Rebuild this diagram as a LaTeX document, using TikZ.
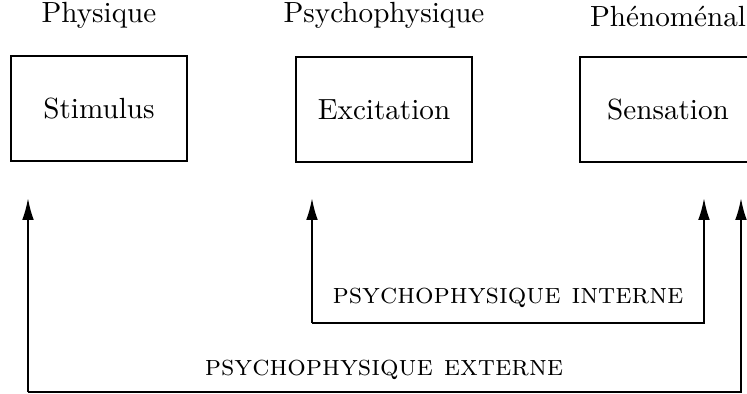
\documentclass[tikz,border=0pt]{standalone}
\usetikzlibrary{arrows.meta}
\begin{document}
\begin{tikzpicture}[x=0.343pt,y=-0.343pt,
  boxnode/.style={draw,line width=0.7pt,minimum width=60.4pt,minimum height=36pt,inner sep=0pt,font=\normalsize},
  toplabel/.style={inner sep=0pt,font=\normalsize},
  scl/.style={inner sep=0pt,font=\normalsize\scshape},
  arr/.style={line width=0.7pt,-{Latex[length=7.5pt,width=4pt]}}]
\useasboundingbox (0,0) rectangle (747,394);
\node[boxnode] (stim) at (99,108.5) {Stimulus};
\node[boxnode] (exc) at (384,109.5) {Excitation};
\node[boxnode] (sens) at (668,109.5) {Sensation};
\node[toplabel] (lphys) at (99,15) {Physique};
\node[toplabel] (lpsy) at (384,15) {Psychophysique};
\node[toplabel] (lphen) at (668,16) {Phénoménal};
\coordinate (a1) at (28,198);
\coordinate (b1) at (28,392);
\coordinate (c1) at (741,392);
\coordinate (d1) at (741,198);
\coordinate (a2) at (312,198);
\coordinate (b2) at (312,323);
\coordinate (c2) at (704,323);
\coordinate (d2) at (704,198);
\draw[arr] (b2) -- (a2);
\draw[arr] (b2) -- (c2) -- (d2);
\draw[arr] (b1) -- (a1);
\draw[arr] (b1) -- (c1) -- (d1);
\node[scl] (lint) at (508,298) {psychophysique interne};
\node[scl] (lext) at (384,370) {psychophysique externe};
\end{tikzpicture}
\end{document}
